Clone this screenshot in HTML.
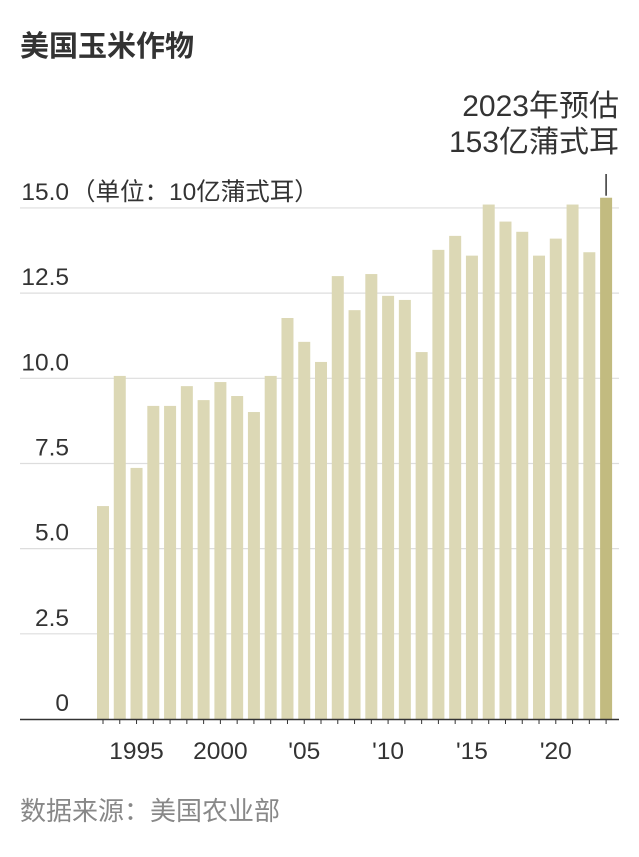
<!DOCTYPE html>
<html><head><meta charset="utf-8"><style>
body{margin:0;background:#fff;font-family:"Liberation Sans","Noto Sans CJK SC",sans-serif;}
</style></head><body>
<svg width="639" height="852" xmlns="http://www.w3.org/2000/svg">
<text x="20" y="56" font-size="29" font-weight="bold" fill="#333" font-family="Liberation Sans, Noto Sans CJK SC, sans-serif">美国玉米作物</text>
<text x="619" y="116" text-anchor="end" font-size="30" fill="#333" font-family="Liberation Sans, Noto Sans CJK SC, sans-serif">2023年预估</text>
<text x="619" y="152" text-anchor="end" font-size="30" fill="#333" font-family="Liberation Sans, Noto Sans CJK SC, sans-serif">153亿蒲式耳</text>
<g id="grid"></g><g id="bars"></g><g id="xaxis"></g>
<text x="20" y="820" font-size="26" fill="#888" font-family="Liberation Sans, Noto Sans CJK SC, sans-serif">数据来源：美国农业部</text>
</svg>
<script>
const years=[1993,1994,1995,1996,1997,1998,1999,2000,2001,2002,2003,2004,2005,2006,2007,2008,2009,2010,2011,2012,2013,2014,2015,2016,2017,2018,2019,2020,2021,2022,2023];
const values=[6.25,10.07,7.37,9.19,9.19,9.77,9.36,9.89,9.48,9.01,10.07,11.77,11.07,10.48,13.0,12.0,13.06,12.42,12.3,10.77,13.77,14.18,13.6,15.1,14.6,14.3,13.6,14.1,15.1,13.7,15.3];
const yTicks=[0,2.5,5,7.5,10,12.5,15];
const yTickLabels=["0","2.5","5.0","7.5","10.0","12.5","15.0"];
const xLabelYears=[1995,2000,2005,2010,2015,2020];
const xLabels=["1995","2000","'05","'10","'15","'20"];
const NS="http://www.w3.org/2000/svg";
const y=v=>719-v*34.07;
const x=yr=>103+(yr-1993)*16.77;
function mk(tag,attrs,parent){const e=document.createElementNS(NS,tag);for(const k in attrs)e.setAttribute(k,attrs[k]);document.getElementById(parent).appendChild(e);return e;}
const F="Liberation Sans, Noto Sans CJK SC, sans-serif";
yTicks.forEach((t,i)=>{
  if(t>0){const l=mk('line',{x1:20,x2:619,y1:y(t),y2:y(t),stroke:'#ddd','stroke-width':1.2},'grid');
  
  }
  const tx=mk('text',{x:69,y:y(t)-8,'text-anchor':'end','font-size':24.5,fill:'#333','font-family':F},'grid');
  
  
  tx.textContent=yTickLabels[i];
  if(t===15){const u=mk('text',{x:71,y:y(t)-8,'font-size':24.5,fill:'#333','font-family':F},'grid');
  
  
  u.textContent='（单位：10亿蒲式耳）';}
});
years.forEach((yr,i)=>{
  const last=i===years.length-1;
  const b=mk('rect',{x:x(yr)-6,y:y(values[i]),width:12,height:719-y(values[i]),fill:last?'#c2bb80':'#dcd8b5'},'bars');
  
  
  const tk=mk('line',{x1:x(yr),x2:x(yr),y1:719,y2:724,stroke:'#333','stroke-width':1},'xaxis');
  
  
});
const ann=mk('line',{x1:x(2023),x2:x(2023),y1:174,y2:y(values[values.length-1])-2,stroke:'#333','stroke-width':1.5},'bars');


const ax=mk('line',{x1:20,x2:619,y1:719.5,y2:719.5,stroke:'#333','stroke-width':1.5},'xaxis');


xLabelYears.forEach((yr,i)=>{
  const t=mk('text',{x:x(yr),y:759,'text-anchor':'middle','font-size':24.5,fill:'#333','font-family':F},'xaxis');
  
  
  t.textContent=xLabels[i];
});
</script>
</body></html>
